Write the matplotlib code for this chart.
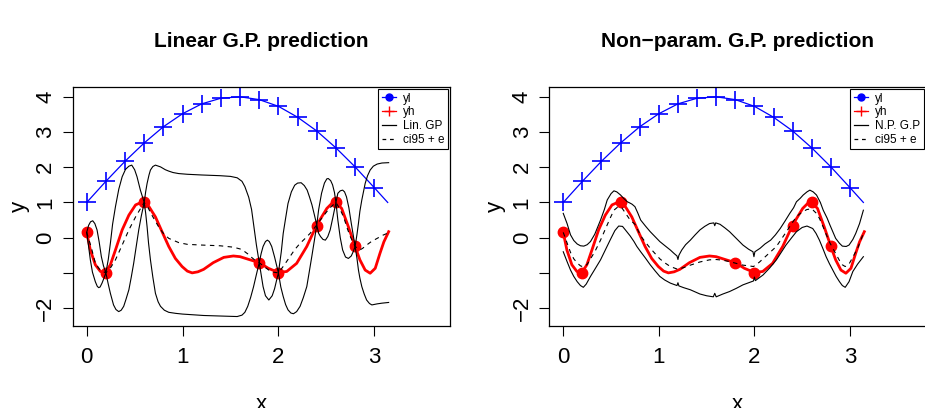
import matplotlib
matplotlib.use("Agg")
import matplotlib.pyplot as plt
from matplotlib.lines import Line2D

plt.rcParams['font.family'] = ['Liberation Sans', 'DejaVu Sans']

# low fidelity function yl (blue, "+" markers)
yl_x = [0.0, 0.2, 0.4, 0.6, 0.8, 1.0, 1.2, 1.4, 1.6, 1.8, 2.0, 2.2, 2.4, 2.6, 2.8, 3.0, 3.14]
yl_y = [1.0, 1.60, 2.17, 2.69, 3.15, 3.52, 3.80, 3.96, 4.00, 3.92, 3.73, 3.42, 3.03, 2.55, 2.01, 1.42, 1.0]

# high fidelity function yh (red curve) and its observations
yh_x = [0.0, 0.038, 0.09, 0.143, 0.195, 0.247, 0.30, 0.37, 0.44, 0.51, 0.56, 0.6, 0.65, 0.717,
        0.786, 0.856, 0.925, 0.995, 1.05, 1.10, 1.16, 1.22, 1.32, 1.43, 1.53, 1.60, 1.705, 1.8,
        1.895, 2.0, 2.087, 2.19, 2.296, 2.4, 2.505, 2.56, 2.6, 2.66, 2.73, 2.8, 2.85, 2.905,
        2.957, 3.01, 3.06, 3.10, 3.15]
yh_y = [0.15, -0.35, -0.77, -0.96, -0.99, -0.77, -0.35, 0.22, 0.64, 0.93, 0.99, 1.0, 0.88, 0.59,
        0.17, -0.25, -0.59, -0.82, -0.95, -1.0, -0.97, -0.90, -0.71, -0.56, -0.52, -0.54, -0.63, -0.71,
        -0.87, -0.99, -0.96, -0.73, -0.25, 0.36, 0.83, 0.98, 1.0, 0.83, 0.31, -0.25, -0.63, -0.92,
        -1.01, -0.87, -0.44, -0.12, 0.17]
obs_x = [0.0, 0.2, 0.6, 1.8, 2.0, 2.4, 2.6, 2.8]
obs_y = [0.15, -1.0, 1.0, -0.72, -0.99, 0.34, 1.0, -0.25]

# linear G.P. : mean and ci95 bounds
lin_mean_x = [0.0, 0.05, 0.09, 0.14, 0.2, 0.25, 0.3, 0.37, 0.44, 0.51, 0.56, 0.6, 0.64, 0.68, 0.75,
              0.8, 0.856, 0.96, 1.05, 1.2, 1.39, 1.53, 1.6, 1.64, 1.68, 1.72, 1.76, 1.8, 1.85, 1.9,
              1.95, 2.0, 2.06, 2.12, 2.17, 2.226, 2.28, 2.33, 2.4, 2.45, 2.505, 2.55, 2.6, 2.64,
              2.68, 2.72, 2.75, 2.8, 2.85, 2.88, 2.92, 2.97, 3.03, 3.09, 3.15]
lin_mean_y = [0.15, -0.30, -0.73, -0.92, -1.0, -0.85, -0.63, -0.21, 0.22, 0.59, 0.82, 1.0, 0.85, 0.64, 0.31,
              0.12, -0.02, -0.14, -0.19, -0.21, -0.23, -0.27, -0.32, -0.38, -0.46, -0.56, -0.65, -0.71, -0.82, -0.92,
              -0.98, -1.0, -0.78, -0.54, -0.34, -0.16, -0.02, 0.12, 0.36, 0.55, 0.74, 0.88, 1.0, 0.82,
              0.59, 0.25, 0.03, -0.25, -0.35, -0.30, -0.21, -0.11, -0.02, 0.07, 0.14]

lin_up_x = [0.0, 0.02, 0.04, 0.063, 0.085, 0.108, 0.13, 0.153, 0.175, 0.2, 0.225, 0.247, 0.27, 0.30,
            0.335, 0.37, 0.405, 0.44, 0.47, 0.50, 0.525, 0.56, 0.6, 0.615, 0.63, 0.65, 0.665, 0.69,
            0.717, 0.77, 0.82, 0.856, 0.90, 0.96, 1.05, 1.2, 1.39, 1.5, 1.57, 1.62, 1.65, 1.69,
            1.72, 1.745, 1.77, 1.8, 1.82, 1.84, 1.865, 1.885, 1.905, 1.93, 1.96, 2.0, 2.03, 2.05,
            2.075, 2.10, 2.135, 2.17, 2.20, 2.237, 2.27, 2.30, 2.325, 2.35, 2.375, 2.4, 2.42, 2.45,
            2.48, 2.505, 2.52, 2.545, 2.565, 2.585, 2.6, 2.62, 2.645, 2.67, 2.69, 2.71, 2.735, 2.76,
            2.78, 2.8, 2.82, 2.835, 2.85, 2.87, 2.905, 2.93, 2.957, 2.99, 3.03, 3.08, 3.15]
lin_up_y = [0.15, 0.35, 0.45, 0.48, 0.40, 0.22, -0.12, -0.54, -0.80, -1.0, -0.62, -0.16, 0.38, 0.88,
            1.38, 1.73, 1.94, 2.03, 2.06, 1.93, 1.73, 1.35, 1.0, 1.30, 1.54, 1.78, 1.92, 2.02,
            2.06, 2.01, 1.93, 1.89, 1.85, 1.82, 1.80, 1.78, 1.76, 1.74, 1.70, 1.60, 1.45, 1.15,
            0.80, 0.30, -0.20, -0.71, -0.45, -0.25, -0.11, -0.07, -0.11, -0.25, -0.55, -1.0, -0.40, 0.12,
            0.55, 0.97, 1.30, 1.49, 1.55, 1.56, 1.48, 1.35, 1.15, 0.93, 0.65, 0.36, 0.80, 1.26,
            1.55, 1.67, 1.68, 1.62, 1.50, 1.28, 1.0, 1.26, 1.33, 1.35, 1.30, 1.16, 0.85, 0.41,
            0.08, -0.25, 0.10, 0.41, 0.75, 1.07, 1.54, 1.76, 1.92, 2.03, 2.09, 2.12, 2.13]

lin_lo_x = [0.0, 0.02, 0.038, 0.06, 0.09, 0.11, 0.125, 0.14, 0.16, 0.18, 0.2, 0.225, 0.247, 0.28,
            0.305, 0.334, 0.36, 0.386, 0.41, 0.44, 0.465, 0.49, 0.515, 0.543, 0.57, 0.6, 0.615, 0.63,
            0.645, 0.665, 0.69, 0.717, 0.745, 0.77, 0.81, 0.856, 0.93, 1.0, 1.22, 1.45, 1.57, 1.62,
            1.65, 1.68, 1.71, 1.74, 1.77, 1.8, 1.82, 1.84, 1.865, 1.9, 1.935, 1.96, 1.98, 2.0,
            2.025, 2.05, 2.075, 2.10, 2.13, 2.157, 2.19, 2.226, 2.26, 2.296, 2.32, 2.348, 2.375, 2.4,
            2.42, 2.44, 2.465, 2.49, 2.515, 2.54, 2.57, 2.6, 2.62, 2.645, 2.67, 2.70, 2.73, 2.76,
            2.78, 2.8, 2.82, 2.835, 2.85, 2.87, 2.895, 2.92, 2.95, 2.975, 3.03, 3.08, 3.15]
lin_lo_y = [0.15, -0.25, -0.63, -0.98, -1.25, -1.38, -1.42, -1.40, -1.29, -1.15, -1.0, -1.32, -1.58, -1.91,
            -2.04, -2.10, -2.06, -1.95, -1.75, -1.48, -1.12, -0.73, -0.28, 0.22, 0.62, 1.0, 0.70, 0.31,
            -0.15, -0.63, -1.12, -1.58, -1.82, -1.95, -2.06, -2.12, -2.15, -2.17, -2.21, -2.23, -2.24, -2.20,
            -2.12, -1.95, -1.70, -1.40, -1.05, -0.71, -1.05, -1.39, -1.65, -1.77, -1.65, -1.45, -1.22, -1.0,
            -1.40, -1.67, -1.90, -2.05, -2.14, -2.16, -2.10, -1.95, -1.70, -1.39, -1.00, -0.54, -0.08, 0.36,
            0.12, 0.03, -0.05, -0.07, 0.03, 0.22, 0.60, 1.0, 0.50, 0.0, -0.35, -0.55, -0.59, -0.52,
            -0.40, -0.25, -0.60, -0.92, -1.15, -1.39, -1.60, -1.77, -1.87, -1.91, -1.88, -1.86, -1.84]

# non-parametric G.P. : mean and ci95 bounds
np_mean_x = [0.0, 0.04, 0.076, 0.11, 0.146, 0.18, 0.21, 0.25, 0.285, 0.33, 0.39, 0.44, 0.49, 0.53,
             0.57, 0.61, 0.65, 0.70, 0.75, 0.78, 0.81, 0.86, 0.91, 0.96, 1.01, 1.06, 1.12, 1.20,
             1.26, 1.33, 1.43, 1.53, 1.60, 1.67, 1.74, 1.81, 1.88, 1.94, 1.99, 2.05, 2.11, 2.17,
             2.23, 2.28, 2.33, 2.39, 2.44, 2.50, 2.55, 2.60, 2.645, 2.68, 2.72, 2.75, 2.79, 2.82,
             2.86, 2.89, 2.92, 2.95, 2.99, 3.03, 3.08, 3.14]
np_mean_y = [0.15, -0.15, -0.42, -0.60, -0.72, -0.80, -0.83, -0.76, -0.60, -0.40, -0.07, 0.24, 0.55, 0.78,
             0.87, 0.86, 0.70, 0.50, 0.38, 0.22, 0.05, -0.13, -0.30, -0.45, -0.60, -0.71, -0.82, -0.90,
             -0.85, -0.78, -0.69, -0.63, -0.62, -0.64, -0.68, -0.73, -0.78, -0.80, -0.82, -0.70, -0.55, -0.40,
             -0.25, -0.05, 0.15, 0.40, 0.60, 0.73, 0.80, 0.82, 0.70, 0.55, 0.30, 0.10, -0.15, -0.30,
             -0.50, -0.65, -0.77, -0.82, -0.75, -0.55, -0.30, 0.12]

np_up_x = [0.0, 0.04, 0.076, 0.11, 0.146, 0.18, 0.215, 0.25, 0.285, 0.33, 0.39, 0.43, 0.46, 0.50,
           0.53, 0.56, 0.6, 0.63, 0.67, 0.70, 0.72, 0.75, 0.78, 0.81, 0.86, 0.91, 0.96, 1.01,
           1.06, 1.12, 1.16, 1.19, 1.20, 1.21, 1.24, 1.28, 1.33, 1.38, 1.43, 1.48, 1.53, 1.575,
           1.585, 1.595, 1.64, 1.69, 1.74, 1.81, 1.88, 1.94, 1.985, 1.995, 2.005, 2.06, 2.11, 2.17,
           2.22, 2.27, 2.32, 2.37, 2.41, 2.44, 2.48, 2.51, 2.55, 2.58, 2.615, 2.65, 2.69, 2.72,
           2.76, 2.79, 2.82, 2.85, 2.89, 2.92, 2.96, 2.99, 3.03, 3.06, 3.10, 3.14]
np_up_y = [0.69, 0.40, 0.08, -0.08, -0.18, -0.23, -0.24, -0.20, -0.11, 0.10, 0.50, 0.80, 1.07, 1.25,
           1.33, 1.30, 1.21, 1.12, 1.02, 0.98, 0.95, 0.88, 0.70, 0.50, 0.33, 0.17, 0.03, -0.11,
           -0.22, -0.35, -0.45, -0.52, -0.62, -0.50, -0.35, -0.20, -0.07, 0.08, 0.22, 0.32, 0.40, 0.42,
           0.34, 0.42, 0.38, 0.28, 0.17, -0.02, -0.21, -0.33, -0.40, -0.54, -0.40, -0.30, -0.18, -0.07,
           0.08, 0.26, 0.47, 0.69, 0.85, 1.02, 1.12, 1.21, 1.30, 1.35, 1.30, 1.21, 1.00, 0.78,
           0.56, 0.36, 0.17, -0.02, -0.16, -0.24, -0.25, -0.21, -0.05, 0.12, 0.40, 0.78]

np_lo_x = [0.0, 0.04, 0.076, 0.11, 0.146, 0.18, 0.21, 0.24, 0.285, 0.33, 0.39, 0.44, 0.49, 0.54,
           0.58, 0.62, 0.65, 0.70, 0.74, 0.77, 0.81, 0.86, 0.91, 0.96, 1.01, 1.06, 1.12, 1.19,
           1.20, 1.21, 1.26, 1.33, 1.38, 1.43, 1.50, 1.57, 1.585, 1.60, 1.67, 1.74, 1.81, 1.88,
           1.94, 1.99, 2.0, 2.01, 2.09, 2.16, 2.23, 2.28, 2.33, 2.39, 2.44, 2.50, 2.55, 2.61,
           2.645, 2.68, 2.715, 2.75, 2.785, 2.82, 2.855, 2.89, 2.92, 2.95, 2.99, 3.03, 3.08, 3.14]
np_lo_y = [-0.40, -0.68, -0.92, -1.10, -1.25, -1.36, -1.41, -1.32, -1.10, -0.90, -0.63, -0.35, -0.07, 0.20,
           0.33, 0.32, 0.22, 0.05, -0.11, -0.25, -0.40, -0.58, -0.77, -0.94, -1.10, -1.20, -1.29, -1.36,
           -1.28, -1.37, -1.42, -1.48, -1.54, -1.60, -1.65, -1.68, -1.58, -1.68, -1.60, -1.53, -1.44, -1.34,
           -1.28, -1.23, -1.12, -1.22, -1.06, -0.86, -0.63, -0.42, -0.21, 0.00, 0.17, 0.29, 0.33, 0.26,
           0.12, -0.07, -0.30, -0.54, -0.74, -0.92, -1.10, -1.25, -1.36, -1.41, -1.25, -0.96, -0.75, -0.54]

y_ticks = [-2, -1, 0, 1, 2, 3, 4]
y_ticklabels = ['\u22122', '', '0', '1', '2', '3', '4']
x_ticks = [0, 1, 2, 3]


def draw_panel(ax, title, gp_label, mx, my, ux, uy, lx, ly):
    ax.plot(yl_x[:-1], yl_y[:-1], '+', color='#0000ff', ms=13, mew=1.2)
    ax.plot(yl_x, yl_y, '-', color='#0000ff', lw=0.9)
    ax.plot(yh_x, yh_y, '-', color='#ff0000', lw=2.0)
    ax.plot(obs_x, obs_y, 'o', color='#ff0000', ms=7.5)
    ax.plot(ux, uy, '-', color='black', lw=0.8)
    ax.plot(lx, ly, '-', color='black', lw=0.8)
    ax.plot(mx, my, '--', color='black', lw=0.8, dashes=(4, 4))

    ax.set_xlim(-0.146, 3.79)
    ax.set_ylim(-2.50, 4.27)
    ax.set_xticks(x_ticks)
    ax.set_xticklabels([str(t) for t in x_ticks])
    ax.set_yticks(y_ticks)
    ax.set_yticklabels(y_ticklabels, rotation=90, va='center')
    ax.tick_params(direction='out', length=7, width=0.8, labelsize=16)
    ax.tick_params(axis='x', pad=8)
    ax.tick_params(axis='y', pad=5)
    for s in ax.spines.values():
        s.set_linewidth(0.9)

    ax.set_title(title, fontsize=15, fontweight='bold', pad=29)
    ax.set_xlabel('x', fontsize=16, labelpad=19)
    ax.set_ylabel('y', fontsize=16, labelpad=4)

    handles = [Line2D([], [], color='#0000ff', marker='o', ms=5, lw=0.9),
               Line2D([], [], color='#ff0000', marker='+', ms=7, lw=0.9),
               Line2D([], [], color='black', lw=0.9),
               Line2D([], [], color='black', lw=0.9, ls='--', dashes=(3, 3))]
    leg = ax.legend(handles, ['yl', 'yh', gp_label, 'ci95 + e'], loc='upper right',
                    fontsize=8.5, handlelength=1.2, handletextpad=0.6, labelspacing=0.15,
                    borderpad=0.3, borderaxespad=0.15, fancybox=False, framealpha=1,
                    edgecolor='black')
    leg.get_frame().set_linewidth(0.8)


fig = plt.figure(figsize=(9.25, 4.08), dpi=100)
bottom = (408 - 325.7) / 408
height = (325.7 - 87.3) / 408
ax1 = fig.add_axes([72.7 / 925, bottom, (450 - 72.7) / 925, height])
ax2 = fig.add_axes([549.3 / 925, bottom, (925.5 - 549.3) / 925, height])

draw_panel(ax1, 'Linear G.P. prediction', 'Lin. GP',
           lin_mean_x, lin_mean_y, lin_up_x, lin_up_y, lin_lo_x, lin_lo_y)
draw_panel(ax2, 'Non\u2212param. G.P. prediction', 'N.P. G.P',
           np_mean_x, np_mean_y, np_up_x, np_up_y, np_lo_x, np_lo_y)

fig.savefig('out.png', dpi=100)
